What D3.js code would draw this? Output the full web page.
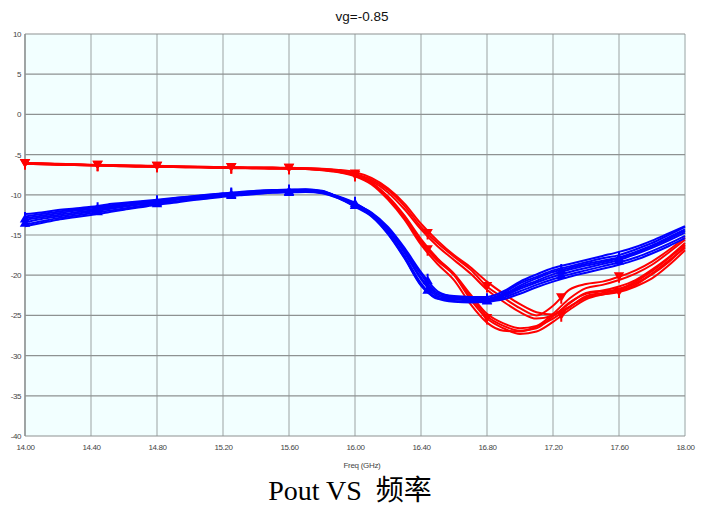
<!DOCTYPE html>
<html>
<head>
<meta charset="utf-8">
<script src="https://cdn.jsdelivr.net/npm/d3@7"></script>
<style>
  html, body { margin: 0; padding: 0; background: #ffffff; }
  svg { display: block; }
</style>
</head>
<body>
<svg id="chart" width="707" height="508"></svg>
<script>
// Frequency sweep (GHz)
const freqs = d3.range(0, 41).map(i => +(14 + i * 0.1).toFixed(1));

// Red traces (dB)
const red1 = [-6.1,-6.15,-6.2,-6.25,-6.3,-6.35,-6.4,-6.4,-6.45,-6.5,-6.5,-6.55,-6.6,-6.6,-6.65,-6.65,-6.7,-6.7,-6.8,-7.0,
  -7.4,-8.1,-9.4,-11.4,-14.0,-16.0,-17.7,-19.3,-21.4,-22.8,-24.1,-25.0,-23.8,-21.8,-21.1,-20.8,-20.2,-19.4,-18.3,-16.9,-15.3];
const red2 = [-6.05,-6.1,-6.15,-6.2,-6.25,-6.3,-6.35,-6.4,-6.4,-6.45,-6.5,-6.5,-6.55,-6.6,-6.6,-6.6,-6.65,-6.7,-6.75,-6.9,
  -7.2,-7.9,-9.2,-11.1,-13.6,-15.7,-17.5,-19.0,-20.8,-22.3,-23.6,-24.6,-24.9,-23.4,-22.3,-22.0,-21.7,-20.8,-19.5,-17.9,-16.2];
const red3 = [-6.15,-6.2,-6.25,-6.3,-6.35,-6.4,-6.45,-6.45,-6.5,-6.55,-6.55,-6.6,-6.65,-6.65,-6.7,-6.7,-6.75,-6.8,-6.85,-7.1,
  -7.5,-8.3,-9.7,-11.8,-14.3,-16.4,-18.1,-19.8,-21.8,-23.3,-24.6,-25.4,-25.0,-23.9,-22.8,-22.4,-22.0,-21.2,-19.8,-18.2,-16.6];
const red4 = [-6.1,-6.15,-6.2,-6.25,-6.3,-6.35,-6.4,-6.45,-6.45,-6.5,-6.55,-6.55,-6.6,-6.65,-6.65,-6.7,-6.7,-6.75,-6.9,-7.15,
  -7.6,-8.6,-10.4,-12.9,-15.9,-18.2,-20.0,-23.0,-25.4,-26.6,-27.3,-27.0,-25.8,-24.3,-23.0,-22.4,-22.1,-21.4,-20.4,-18.8,-16.9];
const red5 = [-6.05,-6.1,-6.2,-6.25,-6.3,-6.3,-6.35,-6.4,-6.45,-6.45,-6.5,-6.55,-6.6,-6.6,-6.65,-6.65,-6.7,-6.75,-6.85,-7.1,
  -7.5,-8.5,-10.2,-12.6,-15.5,-17.9,-19.8,-22.4,-24.8,-26.0,-26.6,-26.3,-24.8,-22.9,-21.6,-21.2,-20.6,-19.8,-18.7,-17.2,-15.6];
const red6 = [-6.15,-6.2,-6.25,-6.3,-6.35,-6.4,-6.45,-6.5,-6.5,-6.55,-6.6,-6.6,-6.65,-6.7,-6.7,-6.75,-6.75,-6.8,-6.95,-7.2,
  -7.7,-8.7,-10.6,-13.1,-16.2,-18.6,-20.6,-23.6,-25.9,-26.9,-27.0,-26.4,-25.4,-24.0,-22.6,-22.2,-21.8,-21.0,-19.9,-18.4,-16.4];
const red7 = [-6.1,-6.1,-6.2,-6.2,-6.3,-6.3,-6.4,-6.45,-6.5,-6.5,-6.5,-6.6,-6.6,-6.65,-6.7,-6.7,-6.7,-6.75,-6.9,-7.15,
  -7.6,-8.5,-10.3,-12.7,-15.7,-18.0,-19.9,-22.7,-25.1,-26.3,-26.9,-26.6,-25.1,-23.5,-22.2,-21.9,-21.4,-20.6,-19.3,-17.8,-16.0];

// Blue traces (dB)
const blue1 = [-12.9,-12.6,-12.3,-12.0,-11.8,-11.5,-11.2,-11.0,-10.8,-10.5,-10.3,-10.1,-9.9,-9.75,-9.6,-9.5,-9.45,-9.4,-9.6,-10.3,
  -11.2,-12.2,-14.0,-16.6,-19.6,-22.0,-22.7,-22.9,-23.0,-22.4,-21.3,-20.4,-19.6,-19.1,-18.6,-18.2,-17.8,-17.1,-16.3,-15.3,-14.3];
const blue2 = [-13.4,-13.0,-12.7,-12.4,-12.1,-11.8,-11.5,-11.2,-11.0,-10.7,-10.5,-10.3,-10.05,-9.9,-9.75,-9.65,-9.6,-9.55,-9.7,-10.2,
  -11.0,-12.4,-14.6,-17.6,-21.0,-22.9,-23.0,-23.1,-23.1,-22.6,-21.7,-20.9,-20.2,-19.6,-19.1,-18.6,-18.1,-17.4,-16.6,-15.7,-14.7];
const blue3 = [-12.4,-12.2,-11.9,-11.7,-11.5,-11.2,-11.0,-10.8,-10.6,-10.4,-10.2,-10.0,-9.8,-9.65,-9.5,-9.4,-9.35,-9.3,-9.5,-10.3,
  -11.3,-12.3,-14.2,-16.9,-19.9,-22.2,-22.6,-22.7,-22.7,-22.0,-20.8,-19.9,-19.1,-18.6,-18.1,-17.6,-17.1,-16.5,-15.7,-14.8,-13.9];
const blue4 = [-13.7,-13.3,-12.9,-12.6,-12.3,-12.0,-11.7,-11.4,-11.1,-10.9,-10.6,-10.4,-10.15,-10.0,-9.85,-9.7,-9.65,-9.6,-9.75,-10.4,
  -11.4,-12.6,-14.8,-17.8,-21.2,-22.8,-23.2,-23.3,-23.2,-22.8,-22.0,-21.2,-20.5,-19.9,-19.4,-18.9,-18.4,-17.8,-17.0,-16.1,-15.1];
const blue5 = [-12.7,-12.4,-12.1,-11.85,-11.6,-11.35,-11.1,-10.9,-10.7,-10.45,-10.25,-10.05,-9.85,-9.7,-9.55,-9.45,-9.4,-9.35,-9.55,-10.25,
  -11.1,-12.3,-14.3,-17.1,-20.3,-22.4,-22.8,-22.9,-22.9,-22.2,-21.0,-20.2,-19.4,-18.9,-18.4,-17.9,-17.5,-16.8,-16.0,-15.0,-14.0];
const blue6 = [-13.1,-12.8,-12.5,-12.2,-11.95,-11.65,-11.35,-11.1,-10.9,-10.6,-10.4,-10.2,-9.95,-9.8,-9.65,-9.55,-9.5,-9.45,-9.65,-10.3,
  -11.2,-12.4,-14.4,-17.2,-20.5,-22.6,-22.9,-23.0,-23.0,-22.5,-21.5,-20.7,-19.9,-19.3,-18.8,-18.4,-17.9,-17.2,-16.4,-15.5,-14.5];
const blue7 = [-13.9,-13.5,-13.1,-12.8,-12.5,-12.2,-11.85,-11.55,-11.25,-11.0,-10.7,-10.5,-10.25,-10.05,-9.9,-9.75,-9.7,-9.65,-9.8,-10.45,
  -11.5,-12.7,-14.9,-17.9,-21.3,-22.9,-23.3,-23.4,-23.3,-23.0,-22.3,-21.5,-20.8,-20.2,-19.7,-19.2,-18.7,-18.1,-17.3,-16.4,-15.4];

// Frequencies carrying trace markers
const markerFreqs = [14.0, 14.44, 14.8, 15.25, 15.6, 16.0, 16.44, 16.8, 17.25, 17.6];

// Axis tick labels
const xTickLabels = ["14.00","14.40","14.80","15.20","15.60","16.00","16.40","16.80","17.20","17.60","18.00"];
const yTickLabels = ["10","5","0","-5","-10","-15","-20","-25","-30","-35","-40"];

const chartTitle = "vg=-0.85";
const xAxisTitle = "Freq (GHz)";
const caption = "Pout VS  频率";

const redSeries = [red1, red2, red3, red4, red5, red6, red7];
const blueSeries = [blue1, blue2, blue3, blue4, blue5, blue6, blue7];
const redMarked = [red1, red4];
const blueMarked = [blue1, blue2];

const svg = d3.select("#chart");
const x = d3.scaleLinear().domain([14, 18]).range([25, 685]);
const y = d3.scaleLinear().domain([-40, 10]).range([436, 34]);

// plot background
svg.append("rect")
  .attr("x", x(14)).attr("y", y(10))
  .attr("width", x(18) - x(14)).attr("height", y(-40) - y(10))
  .attr("fill", "#f2ffff");

// vertical grid
svg.append("g").selectAll("line").data(xTickLabels).join("line")
  .attr("x1", d => x(+d)).attr("x2", d => x(+d))
  .attr("y1", y(10)).attr("y2", y(-40))
  .attr("stroke", "#bcc6c6").attr("stroke-width", 1.6);

// horizontal grid
svg.append("g").selectAll("line").data(yTickLabels).join("line")
  .attr("x1", x(14)).attr("x2", x(18))
  .attr("y1", d => y(+d)).attr("y2", d => y(+d))
  .attr("stroke", "#8e9292").attr("stroke-width", 1.2);

// left axis line
svg.append("line")
  .attr("x1", x(14)).attr("x2", x(14)).attr("y1", y(10)).attr("y2", y(-40))
  .attr("stroke", "#8e9292").attr("stroke-width", 1.4);

// tick labels
const xAxis = d3.axisBottom(x).tickValues(xTickLabels.map(Number))
  .tickFormat((d, i) => xTickLabels[i]).tickSize(0).tickPadding(8);
const gx = svg.append("g").attr("transform", `translate(0,${y(-40)})`).call(xAxis);
gx.select(".domain").remove();
gx.selectAll("text").attr("font-family", "Liberation Sans, Arial, sans-serif")
  .attr("font-size", 8).attr("fill", "#444").attr("letter-spacing", "-0.4");

const yAxis = d3.axisLeft(y).tickValues(yTickLabels.map(Number))
  .tickFormat((d, i) => yTickLabels[i]).tickSize(0).tickPadding(4);
const gy = svg.append("g").attr("transform", `translate(${x(14)},0)`).call(yAxis);
gy.select(".domain").remove();
gy.selectAll("text").attr("font-family", "Liberation Sans, Arial, sans-serif")
  .attr("font-size", 8).attr("fill", "#444").attr("letter-spacing", "-0.4");

// traces
const line = d3.line()
  .x((d, i) => x(freqs[i]))
  .y(d => y(d))
  .curve(d3.curveMonotoneX);

const traces = svg.append("g");
traces.selectAll("path.red").data(redSeries).join("path")
  .attr("class", "red").attr("d", line)
  .attr("fill", "none").attr("stroke", "#ff0000").attr("stroke-width", 2);
traces.selectAll("path.blue").data(blueSeries).join("path")
  .attr("class", "blue").attr("d", line)
  .attr("fill", "none").attr("stroke", "#0000ff").attr("stroke-width", 2);

// value of a trace at an arbitrary frequency
function valueAt(series, f) {
  const i = Math.min(d3.bisectRight(freqs, f) - 1, freqs.length - 2);
  const t = (f - freqs[i]) / (freqs[i + 1] - freqs[i]);
  return series[i] + (series[i + 1] - series[i]) * t;
}

// markers: red = down triangle on a stem, blue = up triangle on a stem
const downMark = "M-3.5,-3.5 L3.5,-3.5 L0,2.5 Z M0,-4 L0,6";
const upMark = "M-3.5,3.5 L3.5,3.5 L0,-2.5 Z M0,-6 L0,4";

function drawMarkers(seriesList, color, shape) {
  const pts = [];
  seriesList.forEach(s => markerFreqs.forEach(f => pts.push([f, valueAt(s, f)])));
  svg.append("g").selectAll("path").data(pts).join("path")
    .attr("transform", d => `translate(${x(d[0])},${y(d[1])})`)
    .attr("d", shape)
    .attr("fill", color).attr("stroke", color).attr("stroke-width", 2);
}
drawMarkers(redMarked, "#ff0000", downMark);
drawMarkers(blueMarked, "#0000ff", upMark);

// titles
svg.append("text").attr("x", 362).attr("y", 21)
  .attr("text-anchor", "middle")
  .attr("font-family", "Liberation Sans, Arial, sans-serif")
  .attr("font-size", 13.5).attr("fill", "#111")
  .text(chartTitle);

svg.append("text").attr("x", 362).attr("y", 468)
  .attr("text-anchor", "middle")
  .attr("font-family", "Liberation Sans, Arial, sans-serif")
  .attr("font-size", 8).attr("fill", "#444").attr("letter-spacing", "-0.3")
  .text(xAxisTitle);

svg.append("text").attr("x", 350).attr("y", 500)
  .attr("text-anchor", "middle")
  .attr("font-family", "Liberation Serif, 'Times New Roman', 'Noto Sans CJK SC', serif")
  .attr("font-size", 28).attr("fill", "#000")
  .attr("xml:space", "preserve").style("white-space", "pre")
  .text(caption);
</script>
</body>
</html>
